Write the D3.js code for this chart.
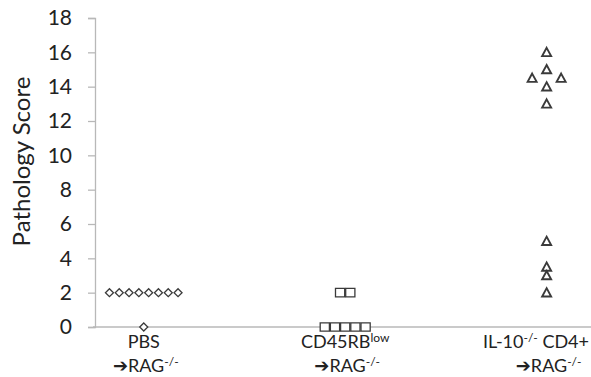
<!DOCTYPE html>
<html>
<head>
<meta charset="utf-8">
<script src="https://cdn.jsdelivr.net/npm/d3@7"></script>
<style>
  body { margin: 0; background: #fff; }
  svg { display: block; }
</style>
</head>
<body>
<div class="chart"></div>
<script>
// Chart dimensions
const w = 591;
const h = 377;

// Data: groups, their markers and the scores
const groups = ["PBS", "CD45RB", "IL-10"];
const markers = ["diamond", "square", "triangle"];
const pbsScores = [2, 2, 2, 2, 2, 2, 2, 2, 0];
const cd45Scores = [2, 2, 0, 0, 0, 0, 0];
const il10Scores = [16, 15, 14.5, 14.5, 14, 13, 5, 3.5, 3, 2];
const yTicks = [0, 2, 4, 6, 8, 10, 12, 14, 16, 18];

// Colour palette
const axisgray = "#b8b8b8";
const textdark = "#222222";
const markdark = "#3a3a3a";

const allScores = [pbsScores, cd45Scores, il10Scores];

// Scales
const xScale = d3.scaleLinear()
                 .domain([0.758, 3.25])
                 .range([95, 591 + 6]);

const yScale = d3.scaleLinear()
                 .domain([0, 18])
                 .range([327, 18]);

// Spread between side-by-side points that share a value (px)
const spread = [9.8, 10.2, 29];

const svg = d3.select(".chart")
              .append("svg")
              .attr("width", w)
              .attr("height", h);

// Y axis
const yAxis = d3.axisLeft(yScale)
                .tickValues(yTicks)
                .tickSize(7)
                .tickPadding(16)
                .tickFormat(d3.format("d"));

const yg = svg.append("g")
              .attr("transform", "translate(" + xScale(0.758) + ",0)")
              .call(yAxis);
yg.select(".domain").attr("stroke", axisgray).attr("stroke-width", 1.3);
yg.selectAll(".tick line").attr("stroke", axisgray).attr("stroke-width", 1.3);
yg.selectAll(".tick text")
  .attr("fill", textdark)
  .attr("x", -23)
  .style("font-family", "Lato")
  .style("font-size", "21px");

// X axis line
svg.append("line")
   .attr("x1", xScale(0.758) - 2)
   .attr("x2", w)
   .attr("y1", yScale(0))
   .attr("y2", yScale(0))
   .attr("stroke", axisgray)
   .attr("stroke-width", 1.6);

// Y axis title
svg.append("text")
   .attr("transform", "translate(30," + (yScale(9) - 11) + ") rotate(-90)")
   .attr("text-anchor", "middle")
   .attr("fill", textdark)
   .style("font-family", "Lato")
   .style("font-size", "24px")
   .text("Pathology Score");

// Build point positions: equal values sit side by side around the group centre
const points = [];
allScores.forEach(function (scores, gi) {
  const counts = d3.rollup(scores, v => v.length, d => d);
  const seen = new Map();
  scores.forEach(function (s) {
    const n = counts.get(s);
    const k = seen.get(s) || 0;
    seen.set(s, k + 1);
    points.push({
      group: gi,
      marker: markers[gi],
      score: s,
      dx: (k - (n - 1) / 2) * spread[gi]
    });
  });
});

function markerPath(type) {
  if (type == "diamond") {
    return "M0,-4L4,0L0,4L-4,0Z";
  } else if (type == "square") {
    return "M-4.6,-4.2H4.6V4.2H-4.6Z";
  } else {
    return "M0,-4.5L4.5,3.8H-4.5Z";
  }
}

svg.selectAll("path.point")
   .data(points)
   .enter()
   .append("path")
   .attr("class", "point")
   .attr("transform", d => "translate(" + (xScale(d.group + 1) + d.dx) + "," + yScale(d.score) + ")")
   .attr("d", d => markerPath(d.marker))
   .attr("fill", "white")
   .attr("stroke", markdark)
   .attr("stroke-width", d => d.marker == "triangle" ? 1.9 : 1.3);

// Category labels (two lines each)
const labels = svg.append("g")
                  .style("font-family", "Lato")
                  .style("font-size", "18px")
                  .attr("fill", textdark);

function line1(t, gi) {
  if (gi == 0) {
    t.append("tspan").text("PBS");
  } else if (gi == 1) {
    t.append("tspan").text("CD45RB");
    t.append("tspan").attr("dy", -6).style("font-size", "12px").text("low");
  } else {
    t.append("tspan").text("IL-10");
    t.append("tspan").attr("dy", -6).style("font-size", "12px").text("-/-");
    t.append("tspan").attr("dy", 6).text(" CD4+");
  }
}

groups.forEach(function (g, gi) {
  // last label runs to the right edge, so anchor it there
  const last = gi == groups.length - 1;
  const t1 = labels.append("text")
                   .attr("x", last ? w - 2 : xScale(gi + 1))
                   .attr("y", 348)
                   .attr("text-anchor", last ? "end" : "middle");
  line1(t1, gi);

  const t2 = labels.append("text")
                   .attr("x", xScale(gi + 1) + 2)
                   .attr("y", 372)
                   .attr("text-anchor", "middle");
  t2.append("tspan")
    .style("font-family", "DejaVu Sans")
    .style("font-weight", "bold")
    .style("font-size", "18px")
    .text("\u2794");
  t2.append("tspan").text("RAG");
  t2.append("tspan").attr("dy", -6).style("font-size", "12px").text("-/-");
});
</script>
</body>
</html>
